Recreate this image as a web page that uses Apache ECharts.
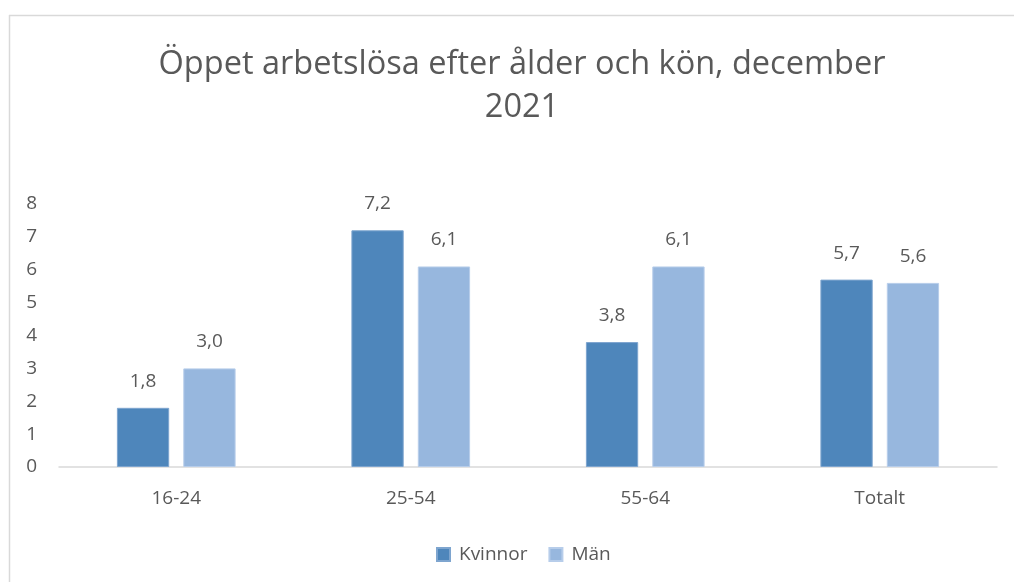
<!DOCTYPE html>
<html><head><meta charset="utf-8">
<script src="https://cdn.jsdelivr.net/npm/echarts@6/dist/echarts.min.js"></script>
<style>html,body{margin:0;padding:0;background:#fff}#c{width:1014px;height:582px}</style>
</head><body><div id="c"></div>
<script>
const titleText = 'Öppet arbetslösa efter ålder och kön, december\n2021';
const categories = ['16-24', '25-54', '55-64', 'Totalt'];
const kvinnor = [1.8, 7.2, 3.8, 5.7];
const man = [3.0, 6.1, 6.1, 5.6];
const seriesNames = ['Kvinnor', 'Män'];
const yTicks = [0, 1, 2, 3, 4, 5, 6, 7, 8];

const font = '"Open Sans", "Noto Sans", sans-serif';
const txt = '#595959';
const chart = echarts.init(document.getElementById('c'));
const fmt = v => v.toFixed(1).replace('.', ',');
chart.setOption({
  animation: false,
  title: {
    text: titleText, left: 517, textAlign: 'center', top: 38,
    textStyle: {fontFamily: font, fontSize: 32.5, fontWeight: 'normal', color: txt, lineHeight: 43}
  },
  graphic: [
    {type: 'line', shape: {x1: 9.5, y1: 15, x2: 9.5, y2: 582}, style: {stroke: '#d9d9d9', lineWidth: 1.5}},
    {type: 'line', shape: {x1: 9, y1: 15.5, x2: 1014, y2: 15.5}, style: {stroke: '#d9d9d9', lineWidth: 1.5}}
  ],
  legend: {
    data: seriesNames, top: 540, left: 431, itemWidth: 13, itemHeight: 13, itemGap: 21,
    icon: 'rect',
    textStyle: {fontFamily: font, fontSize: 19, color: txt, padding: [0, 0, 0, 4]}
  },
  grid: {left: 59, right: 17, top: 204, bottom: 115},
  xAxis: {
    type: 'category', data: categories,
    axisLine: {lineStyle: {color: '#d9d9d9', width: 1.5}},
    axisTick: {show: false},
    axisLabel: {fontFamily: font, fontSize: 19, color: txt, margin: 22}
  },
  yAxis: {
    type: 'value', min: yTicks[0], max: yTicks[yTicks.length - 1], interval: 1,
    splitLine: {show: false}, axisLine: {show: false}, axisTick: {show: false},
    axisLabel: {fontFamily: font, fontSize: 19, color: txt, margin: 22, align: 'right'}
  },
  series: [
    {name: seriesNames[0], type: 'bar', data: kvinnor, barWidth: '22.3%', barGap: '27%',
     itemStyle: {color: '#4e86bb', borderColor: '#7ea5cf', borderWidth: 1},
     label: {show: true, position: 'top', distance: 17, formatter: p => fmt(p.value), fontFamily: font, fontSize: 19, color: txt}},
    {name: seriesNames[1], type: 'bar', data: man, barWidth: '22.3%',
     itemStyle: {color: '#97b7de', borderColor: '#b7cdea', borderWidth: 1},
     label: {show: true, position: 'top', distance: 17, formatter: p => fmt(p.value), fontFamily: font, fontSize: 19, color: txt}}
  ]
});
</script></body></html>
